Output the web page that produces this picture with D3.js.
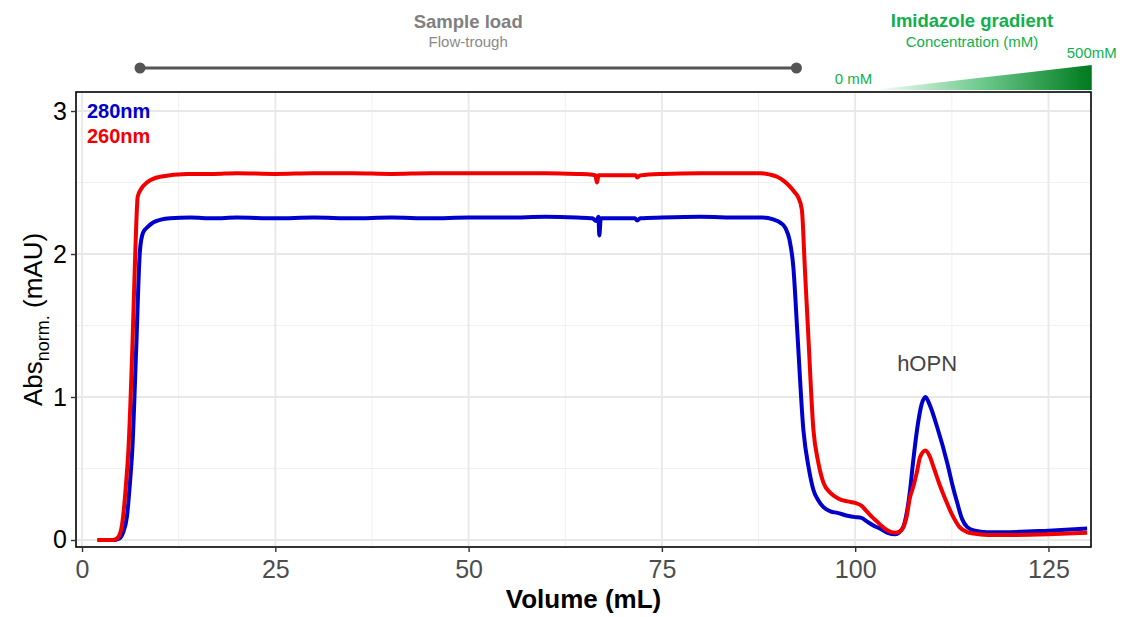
<!DOCTYPE html>
<html>
<head>
<meta charset="utf-8">
<script src="https://cdn.jsdelivr.net/npm/d3@7"></script>
<style>
  body { margin: 0; background: #fff; }
  text { font-family: "Liberation Sans", Arial, sans-serif; }
</style>
</head>
<body>
<svg id="canvas" width="1124" height="617"></svg>
<script>
// 280nm trace
var blueVol = [2, 3, 4, 4.8, 5.3, 5.8, 6.2, 6.5, 7.0, 7.5, 7.9, 8.5, 9.2, 10.2, 11.4, 14, 17, 20, 25, 30, 35, 40, 45, 50, 55, 60, 64, 66, 66.5, 66.8, 66.9, 67.1, 68, 71.5, 71.8, 72.2, 75, 80, 85, 88, 89.5, 90.3, 91, 91.5, 92, 92.5, 93.3, 94, 94.6, 95.2, 95.9, 96.8, 97.7, 99, 100, 100.8, 101.5, 102.4, 103.2, 104.2, 105.2, 106.2, 106.7, 107.1, 107.5, 108, 108.6, 109.1, 109.6, 110.6, 111.9, 112.6, 113.2, 113.8, 114.5, 115.5, 117, 120, 125, 130];
var blueAbs = [0, 0, 0, 0.01, 0.05, 0.16, 0.4, 0.63, 1.33, 2.03, 2.15, 2.19, 2.22, 2.24, 2.25, 2.255, 2.25, 2.255, 2.25, 2.255, 2.25, 2.255, 2.25, 2.255, 2.255, 2.26, 2.255, 2.25, 2.23, 2.26, 2.13, 2.25, 2.25, 2.25, 2.235, 2.25, 2.255, 2.26, 2.255, 2.255, 2.24, 2.22, 2.18, 2.1, 1.91, 1.47, 0.77, 0.5, 0.35, 0.28, 0.23, 0.2, 0.19, 0.17, 0.16, 0.155, 0.13, 0.1, 0.08, 0.05, 0.04, 0.09, 0.2, 0.35, 0.55, 0.77, 0.95, 1.0, 0.95, 0.79, 0.54, 0.38, 0.26, 0.15, 0.09, 0.065, 0.055, 0.055, 0.065, 0.08];

// 260nm trace
var redVol = [2, 3, 4, 4.5, 5.0, 5.3, 5.7, 6.0, 6.5, 6.9, 7.2, 7.7, 8.4, 10.1, 13.6, 17, 20, 25, 30, 35, 40, 45, 50, 55, 60, 64, 66, 66.4, 66.6, 66.8, 68, 71.6, 71.8, 72.2, 75, 80, 85, 87.7, 89, 89.9, 90.8, 91.6, 92.2, 92.6, 93.1, 93.5, 93.9, 94.6, 95.2, 95.9, 96.8, 97.8, 99, 100, 100.8, 101.5, 102.2, 102.8, 103.4, 104.1, 105.2, 106.0, 106.6, 107.1, 107.5, 108, 108.4, 109.1, 109.6, 110.2, 110.9, 111.7, 112.6, 113.5, 114.5, 115.3, 117.1, 120, 125, 130];
var redAbs = [0, 0, 0, 0.01, 0.06, 0.16, 0.4, 0.63, 1.33, 2.03, 2.4, 2.46, 2.5, 2.54, 2.56, 2.56, 2.565, 2.56, 2.565, 2.565, 2.56, 2.565, 2.565, 2.565, 2.565, 2.56, 2.555, 2.55, 2.5, 2.55, 2.55, 2.55, 2.535, 2.55, 2.56, 2.565, 2.565, 2.565, 2.555, 2.54, 2.51, 2.47, 2.43, 2.4, 2.31, 1.89, 1.47, 0.77, 0.55, 0.4, 0.33, 0.29, 0.27, 0.26, 0.24, 0.2, 0.16, 0.13, 0.1, 0.07, 0.05, 0.07, 0.15, 0.3, 0.37, 0.48, 0.58, 0.625, 0.59, 0.5, 0.39, 0.28, 0.17, 0.09, 0.055, 0.045, 0.035, 0.035, 0.04, 0.05];

var xTicks = [0, 25, 50, 75, 100, 125];
var xMinor = [12.5, 37.5, 62.5, 87.5, 112.5];
var yTicks = [0, 1, 2, 3];
var yMinor = [0.5, 1.5, 2.5];

// annotation positions in mL
var sampleLoad = [7.5, 92.4];
var gradientRange = [102.2, 130.6];

let svg = d3.select("#canvas");
let pLeft = 76, pRight = 1091, pTop = 92, pBottom = 547;

let x = d3.scaleLinear().domain([-0.78, 130.5]).range([pLeft, pRight]);
let y = d3.scaleLinear().domain([-0.049, 3.133]).range([pBottom, pTop]);

svg.append("rect").attr("width", 1124).attr("height", 617).attr("fill", "#fff");

// grid
let grid = svg.append("g");
grid.selectAll(".xmin").data(xMinor).enter().append("line")
    .attr("x1", d => x(d)).attr("x2", d => x(d)).attr("y1", pTop).attr("y2", pBottom)
    .attr("stroke", "#f0f0f0").attr("stroke-width", 1);
grid.selectAll(".ymin").data(yMinor).enter().append("line")
    .attr("y1", d => y(d)).attr("y2", d => y(d)).attr("x1", pLeft).attr("x2", pRight)
    .attr("stroke", "#f0f0f0").attr("stroke-width", 1);
grid.selectAll(".xmaj").data(xTicks).enter().append("line")
    .attr("x1", d => x(d)).attr("x2", d => x(d)).attr("y1", pTop).attr("y2", pBottom)
    .attr("stroke", "#e8e8e8").attr("stroke-width", 1.8);
grid.selectAll(".ymaj").data(yTicks).enter().append("line")
    .attr("y1", d => y(d)).attr("y2", d => y(d)).attr("x1", pLeft).attr("x2", pRight)
    .attr("stroke", "#e8e8e8").attr("stroke-width", 1.8);

svg.append("clipPath").attr("id", "clip").append("rect")
    .attr("x", pLeft).attr("y", pTop).attr("width", pRight - pLeft).attr("height", pBottom - pTop);

let line = d3.line().x(d => x(d[0])).y(d => y(d[1])).curve(d3.curveMonotoneX);
let blueData = blueVol.map((v, i) => [v, blueAbs[i]]);
let redData = redVol.map((v, i) => [v, redAbs[i]]);

svg.append("path").datum(blueData).attr("clip-path", "url(#clip)")
    .attr("d", line).attr("fill", "none").attr("stroke", "#0000cd")
    .attr("stroke-width", 4).attr("stroke-linejoin", "round");
svg.append("path").datum(redData).attr("clip-path", "url(#clip)")
    .attr("d", line).attr("fill", "none").attr("stroke", "#f20000")
    .attr("stroke-width", 4).attr("stroke-linejoin", "round");

// panel border
svg.append("rect").attr("x", pLeft).attr("y", pTop).attr("width", pRight - pLeft).attr("height", pBottom - pTop)
    .attr("fill", "none").attr("stroke", "#000").attr("stroke-width", 1.6);

// axes
let xAxis = svg.append("g").attr("transform", "translate(0," + pBottom + ")")
    .call(d3.axisBottom(x).tickValues(xTicks).tickSize(5).tickSizeOuter(0));
xAxis.select(".domain").remove();
xAxis.selectAll("line").attr("stroke", "#333").attr("stroke-width", 1.4);
xAxis.selectAll("text").attr("fill", "#4d4d4d").style("font-size", "25px").attr("dy", "0.9em");

let yAxis = svg.append("g").attr("transform", "translate(" + pLeft + ",0)")
    .call(d3.axisLeft(y).tickValues(yTicks).tickFormat(d3.format("d")).tickSize(5).tickSizeOuter(0));
yAxis.select(".domain").remove();
yAxis.selectAll("line").attr("stroke", "#333").attr("stroke-width", 1.4);
yAxis.selectAll("text").attr("fill", "#000").style("font-size", "25px").attr("x", -9);

// axis titles
svg.append("text").attr("x", (pLeft + pRight) / 2).attr("y", 608)
    .attr("text-anchor", "middle").style("font-size", "26px").style("font-weight", "bold")
    .text("Volume (mL)");

let yt = svg.append("text").attr("transform", "translate(42," + ((pTop + pBottom) / 2) + ") rotate(-90)")
    .attr("text-anchor", "middle").style("font-size", "26px");
yt.append("tspan").text("Abs");
yt.append("tspan").attr("dy", 7).style("font-size", "18px").text("norm.");
yt.append("tspan").attr("dy", -7).text(" (mAU)");

// legend labels
svg.append("text").attr("x", 87).attr("y", 118).attr("fill", "#0000cd")
    .style("font-size", "20px").style("font-weight", "bold").text("280nm");
svg.append("text").attr("x", 87).attr("y", 143).attr("fill", "#f20000")
    .style("font-size", "20px").style("font-weight", "bold").text("260nm");

svg.append("text").attr("x", x(109.3)).attr("y", 371).attr("text-anchor", "middle")
    .attr("fill", "#444").style("font-size", "22px").text("hOPN");

// sample load bar
let midLoad = (sampleLoad[0] + sampleLoad[1]) / 2;
svg.append("text").attr("x", x(midLoad)).attr("y", 28).attr("text-anchor", "middle")
    .attr("fill", "#808080").style("font-size", "18.5px").style("font-weight", "bold").text("Sample load");
svg.append("text").attr("x", x(midLoad)).attr("y", 47).attr("text-anchor", "middle")
    .attr("fill", "#8a8a8a").style("font-size", "15px").text("Flow-trough");
svg.append("line").attr("x1", x(sampleLoad[0])).attr("x2", x(sampleLoad[1])).attr("y1", 68).attr("y2", 68)
    .attr("stroke", "#555").attr("stroke-width", 3);
svg.selectAll(".dot").data(sampleLoad).enter().append("circle")
    .attr("cx", d => x(d)).attr("cy", 68).attr("r", 5.5).attr("fill", "#555");

// imidazole gradient wedge
let defs = svg.append("defs");
let grad = defs.append("linearGradient").attr("id", "imid").attr("x1", "0%").attr("x2", "100%");
grad.append("stop").attr("offset", "0%").attr("stop-color", "#ffffff");
grad.append("stop").attr("offset", "50%").attr("stop-color", "#6cc98c");
grad.append("stop").attr("offset", "100%").attr("stop-color", "#007a1e");

let g0 = x(gradientRange[0]), g1 = x(gradientRange[1]);
svg.append("polygon")
    .attr("points", g0 + ",90 " + g1 + ",90 " + g1 + ",65")
    .attr("fill", "url(#imid)");

svg.append("text").attr("x", 972).attr("y", 27).attr("text-anchor", "middle")
    .attr("fill", "#10b04c").style("font-size", "18.5px").style("font-weight", "bold").text("Imidazole gradient");
svg.append("text").attr("x", 972).attr("y", 47).attr("text-anchor", "middle")
    .attr("fill", "#10b04c").style("font-size", "15px").text("Concentration (mM)");
svg.append("text").attr("x", g0).attr("y", 84).attr("text-anchor", "end")
    .attr("fill", "#10b04c").style("font-size", "15px").text("0 mM");
svg.append("text").attr("x", g1).attr("y", 58).attr("text-anchor", "middle")
    .attr("fill", "#10b04c").style("font-size", "15px").text("500mM");
</script>
</body>
</html>
